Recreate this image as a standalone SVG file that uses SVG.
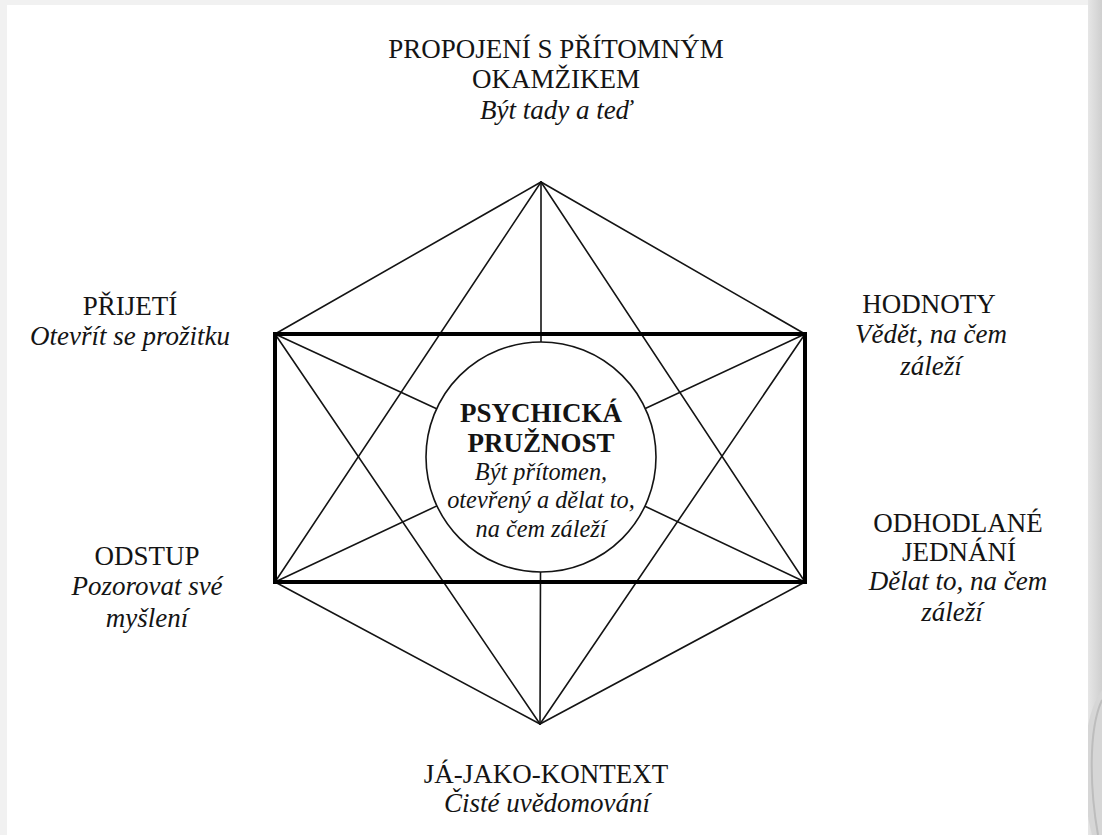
<svg xmlns="http://www.w3.org/2000/svg" width="1102" height="835" viewBox="0 0 1102 835">
<defs>
<linearGradient id="rg" x1="0" y1="0" x2="1" y2="0">
<stop offset="0" stop-color="#e6e6e6"/>
<stop offset="1" stop-color="#cfcfcf"/>
</linearGradient>
<style>
.thin{stroke:#141414;stroke-width:1.6;fill:none;stroke-linecap:round}
.thick{stroke:#000;stroke-width:4;fill:none;stroke-linejoin:miter}
.t{font-family:"Liberation Serif","Times New Roman",serif;fill:#141414;text-anchor:middle;font-size:27px}
.i{font-style:italic}
.b{font-weight:bold;font-size:27px}
.c{font-size:24.3px}
</style>
</defs>
<rect x="0" y="0" width="1102" height="835" fill="#f1f1f1"/>
<rect x="1088" y="0" width="14" height="835" fill="url(#rg)"/>
<path d="M1102 690 C1080 720 1080 790 1092 835 L1102 835 Z" fill="#d6d6d6"/>
<path d="M1102 700 C1088 730 1090 790 1098 835" fill="none" stroke="#bdbdbd" stroke-width="2"/>
<rect x="7" y="5" width="1081" height="830" fill="#ffffff"/>
<g id="connectors">
<line class="thin" x1="541" y1="182" x2="275" y2="334"/>
<line class="thin" x1="541" y1="182" x2="805" y2="334"/>
<line class="thin" x1="540" y1="724" x2="275" y2="582"/>
<line class="thin" x1="540" y1="724" x2="805" y2="582"/>
<line class="thin" x1="541" y1="182" x2="275" y2="582"/>
<line class="thin" x1="541" y1="182" x2="805" y2="582"/>
<line class="thin" x1="540" y1="724" x2="275" y2="334"/>
<line class="thin" x1="540" y1="724" x2="805" y2="334"/>
<line class="thin" x1="541" y1="182" x2="541" y2="342"/>
<line class="thin" x1="540" y1="724" x2="540.5" y2="572"/>
<line class="thin" x1="275" y1="334" x2="436.6" y2="408.7"/>
<line class="thin" x1="805" y1="334" x2="645.3" y2="408.4"/>
<line class="thin" x1="275" y1="582" x2="436.9" y2="505.9"/>
<line class="thin" x1="805" y1="582" x2="644.9" y2="506.2"/>
<rect class="thick" x="275" y="334" width="530" height="248"/>
</g>
<g id="center">
<circle cx="541" cy="457" r="115" fill="#fff" stroke="#141414" stroke-width="1.6"/>
<text class="t b" x="541" y="422">PSYCHICKÁ</text>
<text class="t b" x="541" y="452">PRUŽNOST</text>
<text class="t i c" x="541" y="480">Být přítomen,</text>
<text class="t i c" x="541" y="508">otevřený a dělat to,</text>
<text class="t i c" x="541" y="537">na čem záleží</text>
</g>
<g id="node-top">
<text class="t" x="556" y="58">PROPOJENÍ S PŘÍTOMNÝM</text>
<text class="t" x="556" y="88">OKAMŽIKEM</text>
<text class="t i" x="556" y="119">Být tady a teď</text>
</g>
<g id="node-prijeti">
<text class="t" x="130" y="315">PŘIJETÍ</text>
<text class="t i" x="130" y="345">Otevřít se prožitku</text>
</g>
<g id="node-hodnoty">
<text class="t" x="929" y="313">HODNOTY</text>
<text class="t i" x="931" y="343">Vědět, na čem</text>
<text class="t i" x="931" y="375">záleží</text>
</g>
<g id="node-odstup">
<text class="t" x="147" y="565">ODSTUP</text>
<text class="t i" x="147" y="595">Pozorovat své</text>
<text class="t i" x="147" y="627">myšlení</text>
</g>
<g id="node-jednani">
<text class="t" x="958" y="532">ODHODLANÉ</text>
<text class="t" x="959" y="561">JEDNÁNÍ</text>
<text class="t i" x="958" y="590">Dělat to, na čem</text>
<text class="t i" x="952" y="621">záleží</text>
</g>
<g id="node-kontext">
<text class="t" x="546" y="783">JÁ-JAKO-KONTEXT</text>
<text class="t i" x="547" y="812">Čisté uvědomování</text>
</g>
</svg>
